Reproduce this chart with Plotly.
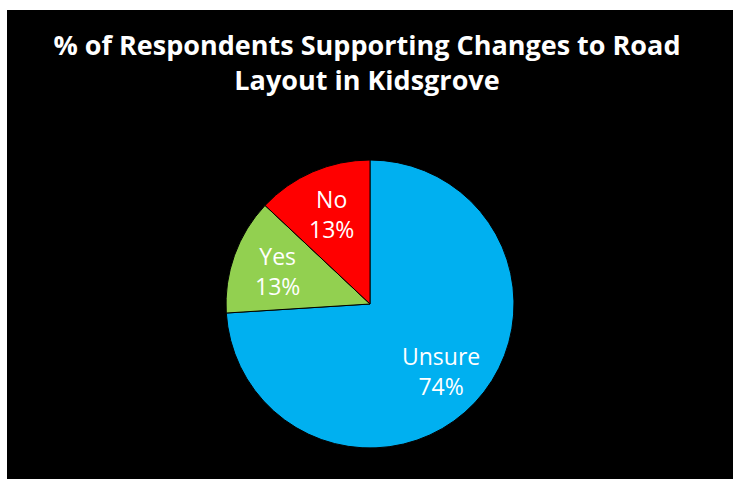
import math
import plotly.graph_objects as go

labels = ["Unsure", "Yes", "No"]
values = [74, 13, 13]
colors = ["#00B0F0", "#92D050", "#FF0000"]
title_text = "% of Respondents Supporting Changes to Road<br>Layout in Kidsgrove"

W, H = 733, 479
cx, cy, r = 370, 304, 144
label_r = 0.68

fig = go.Figure(go.Pie(
    labels=labels,
    values=values,
    sort=False,
    direction="clockwise",
    rotation=0,
    marker=dict(colors=colors, line=dict(color="#000000", width=1)),
    textinfo="none",
    showlegend=False,
    hoverinfo="label+percent",
    domain=dict(x=[(cx - r) / W, (cx + r) / W], y=[1 - (cy + r) / H, 1 - (cy - r) / H]),
))

# data labels placed along each slice's bisector
total = sum(values)
cum = 0
annotations = []
for lab, v in zip(labels, values):
    mid = (cum + v / 2) / total * 2 * math.pi
    cum += v
    px = cx + label_r * r * math.sin(mid)
    py = cy - label_r * r * math.cos(mid)
    annotations.append(dict(
        x=px / W, y=1 - py / H, xref="paper", yref="paper",
        text=f"{lab}<br>{round(v / total * 100)}%", showarrow=False,
        xanchor="center", yanchor="middle",
        font=dict(family="Open Sans", size=23, color="white"),
    ))

fig.update_layout(
    width=W, height=H,
    margin=dict(l=0, r=0, t=0, b=0),
    paper_bgcolor="black",
    plot_bgcolor="black",
    title=dict(
        text=title_text,
        x=367 / W, xanchor="center",
        y=1 - 55 / H, yanchor="top",
        font=dict(family="Open Sans", size=27, color="white", weight="bold"),
    ),
    annotations=annotations,
    shapes=[
        dict(type="rect", xref="paper", yref="paper", x0=0, x1=7 / W, y0=0, y1=1,
             fillcolor="white", line=dict(width=0), layer="above"),
        dict(type="rect", xref="paper", yref="paper", x0=0, x1=1, y0=1 - 10 / H, y1=1,
             fillcolor="white", line=dict(width=0), layer="above"),
    ],
)

fig.write_html("out.html")
